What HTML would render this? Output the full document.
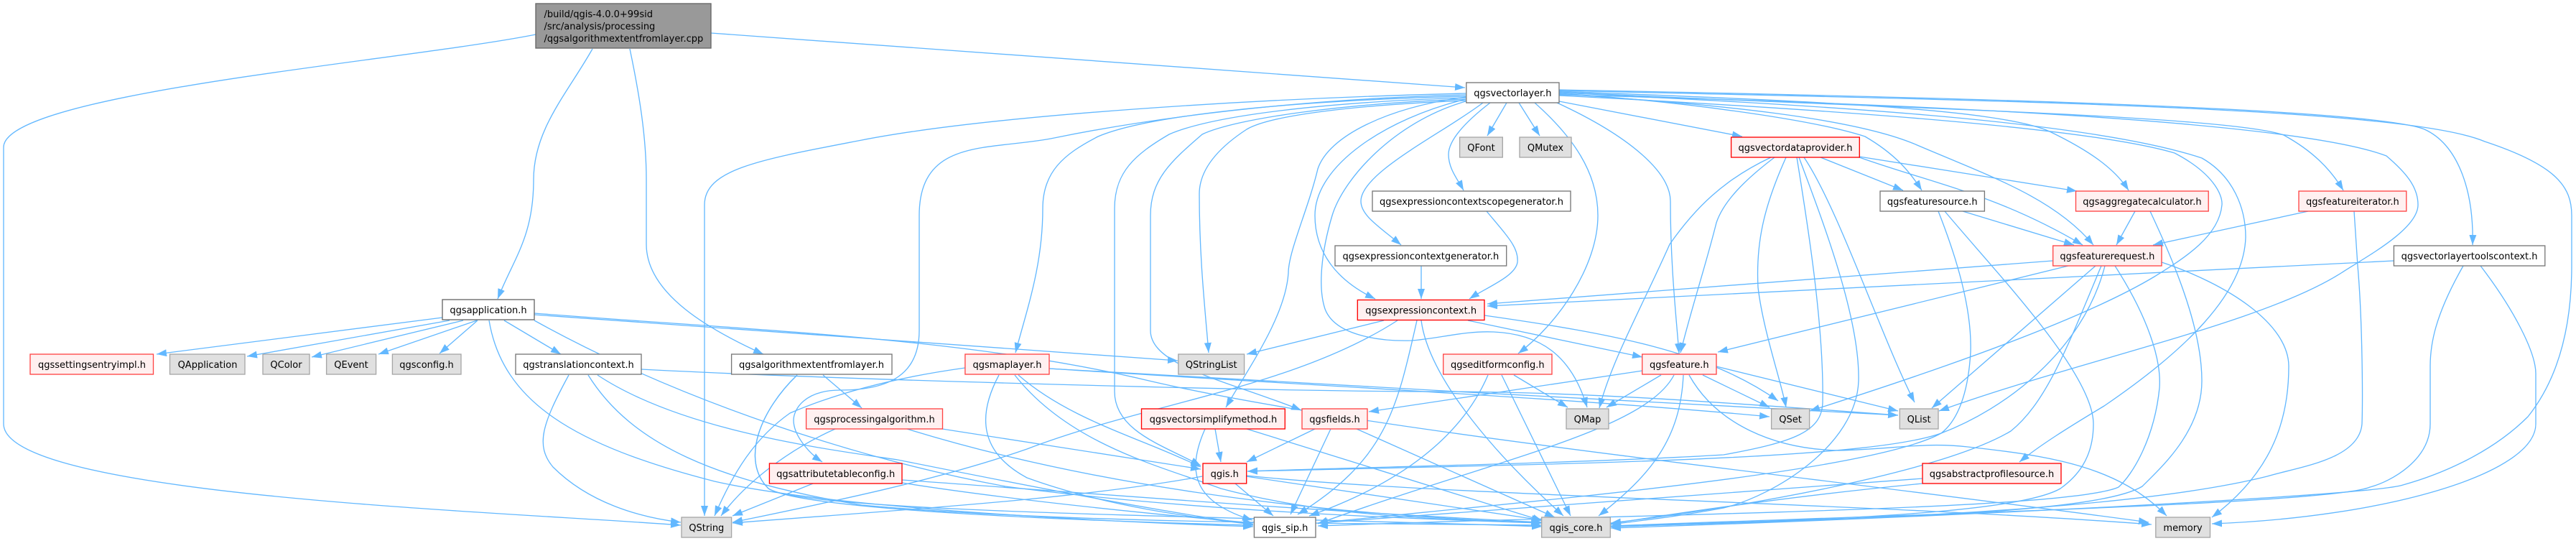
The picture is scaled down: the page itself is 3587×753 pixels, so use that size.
<!DOCTYPE html>
<html><head><meta charset="utf-8"><title>qgsalgorithmextentfromlayer.cpp include graph</title>
<style>
html,body{margin:0;padding:0;background:#fff}
svg{display:block}
.e path{fill:none;stroke:#63b8ff;stroke-width:1.33;marker-end:url(#a)}
text{font-family:"DejaVu Sans","Liberation Sans",sans-serif;font-size:13px;fill:#000;text-anchor:middle}
rect{stroke-width:1.33}
.w{fill:#fff;stroke:#777}
.g{fill:#e0e0e0;stroke:#a6a6a6}
.r{fill:#fff0f0;stroke:#f00}
.s{fill:#fff0f0;stroke:#f44}
</style></head><body>
<svg xmlns="http://www.w3.org/2000/svg" width="3587" height="753" viewBox="0 0 3587 753">
<defs><marker id="a" markerUnits="userSpaceOnUse" markerWidth="15" markerHeight="11" refX="14" refY="5" orient="auto"><polygon points="0,0 14,5 0,10" fill="#63b8ff"/></marker></defs>
<g class="e">
<!-- root -->
<path d="M746,48 C560,85 5,130 5,205 L5,590 C5,690 700,712 948,731"/>
<path d="M825,68 C790,130 743,180 743,250 C743,330 715,360 693,416"/>
<path d="M877,68 C890,130 900,190 900,250 L900,340 C900,410 990,460 1063,493"/>
<path d="M990,46 L2040,122"/>
<!-- qgsapplication -->
<path d="M616,442 L218,493"/>
<path d="M626,446 L344,496"/>
<path d="M645,446 L434,497"/>
<path d="M664,446 L527,493"/>
<path d="M665,446 L612,492"/>
<path d="M702,446 L781,493"/>
<path d="M744,436 C1050,460 1350,470 1600,530 C1900,600 2500,660 2992,727"/>
<path d="M744,438 L1640,502"/>
<path d="M744,446 C950,560 1200,640 1400,677 C1650,710 1950,722 2147,728"/>
<path d="M681,446 C700,560 800,620 995,670 C1150,705 1500,725 1745,733"/>
<!-- qgstranslationcontext -->
<path d="M792,522 C755,590 745,620 770,650 C820,700 890,720 948,727"/>
<path d="M832,522 C950,600 1150,625 1250,640 C1400,670 1600,710 1745,730"/>
<path d="M819,522 C880,620 1000,670 1200,703 C1500,730 1900,728 2147,731"/>
<path d="M893,514 C1200,530 1800,545 2000,545 C2200,545 2400,560 2643,578"/>
<!-- algorithm header -->
<path d="M1146,522 L1200,568"/>
<path d="M1110,522 C1060,570 1030,640 1070,680 C1120,710 1500,725 1745,731"/>
<path d="M1110,522 C1060,570 1030,640 1070,680 C1120,715 1800,720 2147,733"/>
<!-- processing algorithm -->
<path d="M1163,597 C1100,625 1040,670 1004,718"/>
<path d="M1312,597 L1672,653"/>
<path d="M1263,597 C1500,670 1800,715 2147,728"/>
<!-- attributetableconfig -->
<path d="M1132,673 L1020,718"/>
<path d="M1256,672 C1400,695 1600,715 1745,728"/>
<path d="M1256,668 C1500,685 1800,710 2147,727"/>
<!-- qgsvectorlayer left -->
<path d="M2041,130 C1750,137 1380,160 1200,195 C1060,222 981,235 981,285 L981,718"/>
<path d="M2041,132 C1800,138 1600,165 1468,192 C1380,210 1280,190 1280,300 L1280,460 C1280,520 1240,543 1170,543 C1120,543 1105,570 1105,585 C1105,605 1125,630 1145,643"/>
<path d="M2041,134 C1800,140 1600,160 1529,190 C1480,215 1452,240 1452,290 C1452,370 1430,430 1414,491"/>
<path d="M2041,136 C1850,142 1690,160 1628,187 C1580,215 1552,240 1552,290 L1552,545 C1552,600 1620,620 1672,648"/>
<path d="M2041,138 C1870,144 1720,165 1674,187 C1630,225 1602,250 1602,300 L1602,460 C1602,510 1710,530 1812,571"/>
<path d="M2041,140 C1890,146 1770,160 1736,180 C1690,210 1670,240 1670,270 C1670,360 1678,430 1683,491"/>
<path d="M2041,135 C1930,150 1850,190 1835,235 C1822,290 1794,350 1794,380 C1790,440 1740,510 1707,567"/>
<path d="M2041,138 C1930,165 1831,230 1831,300 C1831,350 1860,390 1915,416"/>
<path d="M2041,141 C1940,170 1870,250 1855,300 C1840,350 1835,400 1845,430 C1860,470 1930,475 1965,474 C2000,472 2040,460 2080,462 C2150,465 2190,500 2210,567"/>
<path d="M2065,143 C2010,185 1895,240 1895,280 C1895,300 1920,315 1951,341"/>
<path d="M2075,143 C2040,170 2017,195 2017,215 C2017,235 2030,250 2038,265"/>
<path d="M2098,143 L2071,189"/>
<path d="M2115,143 L2144,189"/>
<path d="M2137,143 C2190,190 2225,240 2225,300 C2225,370 2170,450 2114,492"/>
<path d="M2168,143 C2270,190 2326,240 2326,280 C2326,370 2334,440 2338,492"/>
<path d="M2171,141 L2426,190"/>
<!-- qgsvectorlayer right -->
<path d="M2171,130 C2330,140 2520,165 2597,190 C2640,215 2660,240 2676,265"/>
<path d="M2171,131 C2400,145 2580,165 2665,200 C2770,245 2860,275 2915,341"/>
<path d="M2171,127 C2500,140 2780,150 2854,183 C2910,210 2945,235 2964,265"/>
<path d="M2171,128 C2600,150 3100,160 3180,188 C3220,210 3245,235 3263,265"/>
<path d="M2171,125 C2700,135 3300,150 3376,180 C3420,200 3445,260 3443,341"/>
<path d="M2171,126 C2800,140 3350,150 3460,197 C3560,230 3581,260 3581,300 L3581,370 C3581,460 3560,530 3520,580 C3470,630 3400,660 3346,675 C3300,690 2700,720 2243,735"/>
<path d="M2171,133 C2500,150 2900,175 3028,213 C3080,240 3095,270 3094,285 C3090,330 3040,360 3000,385 C2900,445 2700,515 2520,572"/>
<path d="M2171,132 C2700,145 3200,170 3323,217 C3350,240 3367,260 3367,285 C3367,320 3290,360 3260,380 C3150,450 2900,500 2700,572"/>
<path d="M2171,129 C2500,145 2900,165 3066,220 C3110,245 3127,290 3127,330 C3125,410 3040,490 2930,565 C2880,595 2840,620 2812,643"/>
<!-- generators -->
<path d="M1979,370 L1979,416"/>
<path d="M2070,294 C2100,330 2115,345 2113,365 C2110,385 2070,400 2046,416"/>
<!-- qgsexpressioncontext -->
<path d="M1927,446 L1736,493"/>
<path d="M1946,446 C1800,540 1600,560 1430,625 C1300,670 1150,700 1020,727"/>
<path d="M1973,446 C1945,570 1930,640 1807,716"/>
<path d="M1979,446 C1990,530 2090,640 2177,718"/>
<path d="M2044,446 L2287,497"/>
<path d="M2067,439 C2250,465 2380,490 2476,558"/>
<!-- qgsmaplayer -->
<path d="M1344,512 C1250,525 1170,545 1100,575 C1050,610 1020,660 995,718"/>
<path d="M1418,522 C1490,585 1590,610 1672,650"/>
<path d="M1391,522 C1360,580 1365,630 1430,665 C1540,705 1660,720 1745,730"/>
<path d="M1413,522 C1490,620 1620,650 1700,680 C1850,720 2000,722 2146,728"/>
<path d="M1461,513 C1800,535 2300,558 2643,578"/>
<path d="M1461,513 C1800,535 2200,555 2464,580"/>
<!-- simplify method -->
<path d="M1692,597 L1700,643"/>
<path d="M1736,597 L2148,725"/>
<path d="M1678,597 C1650,660 1665,700 1744,724"/>
<!-- qgsfields -->
<path d="M1831,597 L1736,643"/>
<path d="M1853,597 L1797,716"/>
<path d="M1889,597 L2165,720"/>
<!-- qgis.h -->
<path d="M1720,673 L1773,718"/>
<path d="M1735,663 L2147,724"/>
<path d="M1736,662 C2000,690 2600,700 2996,730"/>
<path d="M1674,663 C1500,695 1250,710 1020,728"/>
<!-- qgseditformconfig -->
<path d="M2108,522 L2183,567"/>
<path d="M2091,522 L2187,718"/>
<path d="M2072,522 C2030,620 1930,680 1823,718"/>
<!-- qgsfeature -->
<path d="M2287,516 L1906,573"/>
<path d="M2313,522 L2237,567"/>
<path d="M2331,522 C2290,600 2080,640 1835,729"/>
<path d="M2344,522 C2340,610 2300,660 2226,718"/>
<path d="M2371,522 L2464,567"/>
<path d="M2390,510 L2643,572"/>
<path d="M2352,522 C2390,590 2470,625 2560,627 C2640,625 2680,615 2740,622 C2860,635 2950,650 3017,718"/>
<!-- qgsvectordataprovider -->
<path d="M2466,219 C2400,250 2360,290 2325,340 C2285,430 2245,500 2227,568"/>
<path d="M2471,219 C2430,250 2400,280 2390,310 C2375,370 2355,430 2340,491"/>
<path d="M2487,219 C2455,290 2445,340 2448,400 C2455,460 2480,530 2487,567"/>
<path d="M2502,219 C2515,300 2540,450 2538,560 C2537,600 2500,615 2400,633 C2200,645 1900,650 1737,656"/>
<path d="M2512,219 C2560,290 2620,470 2666,560"/>
<path d="M2505,219 C2535,300 2590,440 2588,530 C2585,620 2470,690 2400,707 C2330,720 2280,725 2243,730"/>
<path d="M2535,219 L2650,265"/>
<path d="M2589,218 L2892,266"/>
<path d="M2589,219 C2690,255 2780,270 2900,341"/>
<!-- qgsfeaturesource -->
<path d="M2699,294 C2725,360 2746,430 2744,490 C2740,560 2720,590 2703,603 C2600,660 2100,700 1835,728"/>
<path d="M2708,294 C2780,380 2915,520 2915,590 C2915,640 2890,665 2869,680 C2800,720 2450,725 2243,733"/>
<path d="M2733,294 L2888,341"/>
<!-- aggregate / iterator -->
<path d="M2973,294 L2947,341"/>
<path d="M2994,294 C3020,350 3066,450 3066,530 C3066,600 3010,650 2983,677 C2920,715 2600,722 2243,733"/>
<path d="M3214,294 L2998,341"/>
<path d="M3278,294 L3283,370 C3290,450 3290,560 3289,590 C3285,640 3200,650 3157,663 C2950,715 2500,725 2243,733"/>
<!-- qgsfeaturerequest -->
<path d="M2858,363 L2071,423"/>
<path d="M2880,370 L2392,490"/>
<path d="M2918,370 L2690,568"/>
<path d="M2926,370 C2880,480 2850,560 2800,600 C2700,660 2400,710 2243,728"/>
<path d="M2931,370 C2900,490 2790,570 2703,603 C2600,640 2200,645 1737,656"/>
<path d="M2945,370 C2990,440 3010,500 3007,540 C3000,610 2970,660 2950,678 C2880,710 2300,715 1835,732"/>
<path d="M3010,365 C3100,395 3187,450 3187,510 C3187,590 3160,660 3080,720"/>
<!-- toolscontext -->
<path d="M3333,363 L2071,426"/>
<path d="M3430,370 C3390,440 3384,480 3384,510 L3384,590 C3384,640 3330,670 3300,678 C3250,700 2700,715 2243,732"/>
<path d="M3454,370 C3500,430 3531,490 3531,520 L3531,590 C3531,660 3320,720 3080,729"/>
<!-- profile source -->
<path d="M2677,666 L1835,728"/>
<path d="M2677,673 C2500,690 2350,712 2243,729"/>
</g>
<!-- nodes -->
<rect x="746" y="5" width="244" height="62" fill="#999" stroke="#666"/>
<text x="757.5" y="24" style="text-anchor:start">/build/qgis-4.0.0+99sid</text>
<text x="757.5" y="41" style="text-anchor:start">/src/analysis/processing</text>
<text x="757.5" y="58" style="text-anchor:start">/qgsalgorithmextentfromlayer.cpp</text>

<rect class="w" style="stroke:#666" x="616" y="417" width="128" height="28"/><text x="680" y="436">qgsapplication.h</text>
<rect class="s" x="42" y="493" width="171.5" height="28"/><text x="128" y="512">qgssettingsentryimpl.h</text>
<rect class="g" x="236.5" y="493" width="104.5" height="28"/><text x="289" y="512">QApplication</text>
<rect class="g" x="366" y="493" width="65" height="28"/><text x="398.5" y="512">QColor</text>
<rect class="g" x="454.6" y="493" width="69" height="28"/><text x="489" y="512">QEvent</text>
<rect class="g" x="546.4" y="493" width="95.6" height="28"/><text x="594" y="512">qgsconfig.h</text>
<rect class="w" x="718" y="493" width="175" height="28"/><text x="805.5" y="512">qgstranslationcontext.h</text>
<rect class="w" x="1018.6" y="493" width="223.4" height="28"/><text x="1130" y="512">qgsalgorithmextentfromlayer.h</text>
<rect class="s" x="1122.6" y="569" width="189.9" height="28"/><text x="1217.5" y="588">qgsprocessingalgorithm.h</text>
<rect class="r" x="1071.4" y="645" width="184.6" height="28"/><text x="1163.7" y="664">qgsattributetableconfig.h</text>
<rect class="g" x="949" y="720" width="69.6" height="28"/><text x="983.8" y="739">QString</text>

<rect class="w" x="2041.8" y="115" width="129.2" height="28"/><text x="2106.4" y="134">qgsvectorlayer.h</text>
<rect class="g" x="2032.6" y="191" width="59.7" height="28"/><text x="2062.5" y="210">QFont</text>
<rect class="g" x="2116" y="191" width="72" height="28"/><text x="2152" y="210">QMutex</text>
<rect class="w" x="1911" y="266" width="276" height="28"/><text x="2049" y="285">qgsexpressioncontextscopegenerator.h</text>
<rect class="w" x="1859" y="342" width="238.7" height="28"/><text x="1978.4" y="361">qgsexpressioncontextgenerator.h</text>
<rect class="r" x="1890.3" y="417.5" width="176.7" height="28"/><text x="1978.7" y="436.5">qgsexpressioncontext.h</text>
<rect class="s" x="1343.9" y="493" width="117.1" height="28"/><text x="1402.5" y="512">qgsmaplayer.h</text>
<rect class="g" x="1640.8" y="493" width="91.8" height="28"/><text x="1686.7" y="512">QStringList</text>
<rect class="s" x="2009.7" y="493" width="151.3" height="28"/><text x="2085.3" y="512">qgseditformconfig.h</text>
<rect class="s" x="2286.7" y="493" width="103.3" height="28"/><text x="2338.3" y="512">qgsfeature.h</text>
<rect class="r" x="1589.5" y="569" width="199.8" height="28"/><text x="1689.4" y="588">qgsvectorsimplifymethod.h</text>
<rect class="s" x="1813" y="569" width="91" height="28"/><text x="1858.5" y="588">qgsfields.h</text>
<rect class="g" x="2181" y="569" width="59" height="28"/><text x="2210.5" y="588">QMap</text>
<rect class="r" x="1675" y="645" width="60.7" height="28"/><text x="1705.3" y="664">qgis.h</text>
<rect class="w" x="1746.4" y="720" width="85.6" height="28"/><text x="1789.2" y="739">qgis_sip.h</text>
<rect class="g" x="2146.7" y="720" width="95.6" height="28"/><text x="2194.5" y="739">qgis_core.h</text>

<rect class="r" x="2410.6" y="191" width="178.7" height="28"/><text x="2500" y="210">qgsvectordataprovider.h</text>
<rect class="w" x="2618" y="266" width="145.4" height="28"/><text x="2690.7" y="285">qgsfeaturesource.h</text>
<rect class="s" x="2890.5" y="266" width="184.7" height="28"/><text x="2982.9" y="285">qgsaggregatecalculator.h</text>
<rect class="s" x="3201" y="266" width="149.8" height="28"/><text x="3275.9" y="285">qgsfeatureiterator.h</text>
<rect class="s" x="2858.7" y="342" width="151.3" height="28"/><text x="2934.4" y="361">qgsfeaturerequest.h</text>
<rect class="w" x="3333.4" y="342" width="210.4" height="28"/><text x="3438.6" y="361">qgsvectorlayertoolscontext.h</text>
<rect class="g" x="2466.6" y="569" width="53" height="28"/><text x="2493.1" y="588">QSet</text>
<rect class="g" x="2645.3" y="569" width="53.7" height="28"/><text x="2672.1" y="588">QList</text>
<rect class="r" x="2677" y="645" width="193" height="28"/><text x="2773.5" y="664">qgsabstractprofilesource.h</text>
<rect class="g" x="3001.8" y="720" width="75.7" height="28"/><text x="3039.6" y="739">memory</text>
</svg>
</body></html>
